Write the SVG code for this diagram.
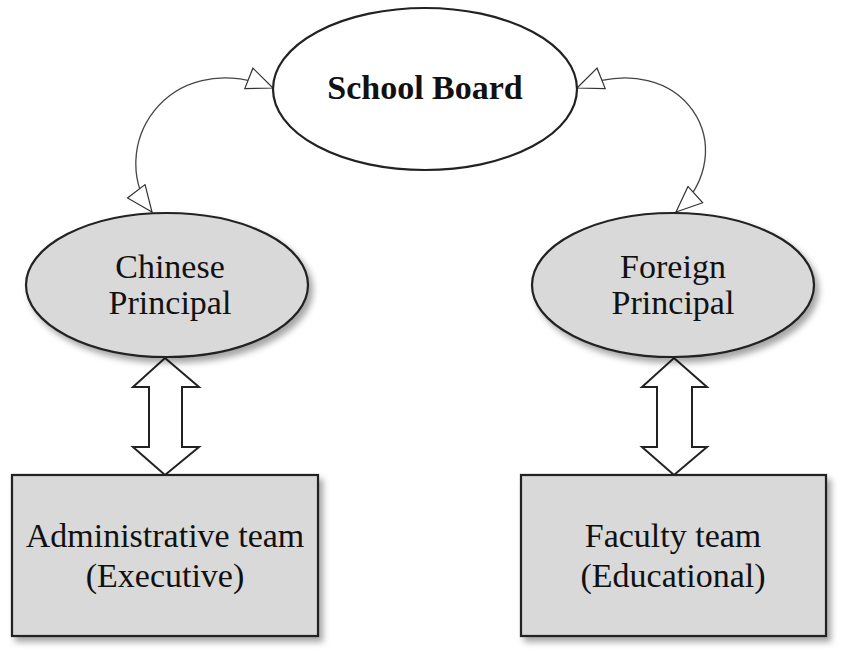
<svg xmlns="http://www.w3.org/2000/svg" width="851" height="661" viewBox="0 0 851 661">
<defs>
<filter id="sh" x="-10%" y="-10%" width="130%" height="130%"><feDropShadow dx="4" dy="5" stdDeviation="3" flood-color="#000" flood-opacity="0.35"/></filter>
<marker id="ah" viewBox="0 0 28 24" refX="27" refY="12" markerWidth="28" markerHeight="24" markerUnits="userSpaceOnUse" orient="auto-start-reverse"><path d="M1,1 L27,12 L1,23 Z" fill="#fff" stroke="#333" stroke-width="1.2"/></marker>
</defs>
<style>
text{font-family:"Liberation Serif","Times New Roman",serif;font-size:34px;fill:#111;text-anchor:middle}
.g{fill:#d9d9d9;stroke:#222;stroke-width:2.2}
.da{fill:#fff;stroke:#222;stroke-width:2}
.c{fill:none;stroke:#444;stroke-width:1.3}
</style>
<rect width="851" height="661" fill="#fff"/>
<g id="connectors">
<path class="c" d="M 273 88 C 165 45, 105 150, 152 212" marker-start="url(#ah)" marker-end="url(#ah)"/>
<path class="c" d="M 577 88 C 685 45, 745 150, 676 212" marker-start="url(#ah)" marker-end="url(#ah)"/>
<path class="da" d="M165,358 L199,387 L182,387 L182,447 L199,447 L165,475 L133,447 L149,447 L149,387 L133,387 Z"/>
<path class="da" d="M674,358 L707,387 L692,387 L692,447 L707,447 L674,475 L642,447 L657,447 L657,387 L642,387 Z"/>
</g>
<g id="school-board">
<ellipse cx="425" cy="89" rx="152" ry="81" fill="#fff" stroke="#222" stroke-width="2.2"/>
<text x="425" y="99" font-weight="bold" font-size="34">School Board</text>
</g>
<g id="chinese-principal">
<ellipse class="g" cx="167" cy="285" rx="141" ry="72" filter="url(#sh)"/>
<text x="170" y="278">Chinese</text>
<text x="170" y="314">Principal</text>
</g>
<g id="foreign-principal">
<ellipse class="g" cx="673" cy="285" rx="141" ry="72" filter="url(#sh)"/>
<text x="673" y="278">Foreign</text>
<text x="673" y="314">Principal</text>
</g>
<g id="admin-team">
<rect class="g" x="12" y="475" width="306" height="161" filter="url(#sh)"/>
<text x="165" y="547">Administrative team</text>
<text x="165" y="587">(Executive)</text>
</g>
<g id="faculty-team">
<rect class="g" x="521" y="475" width="305" height="161" filter="url(#sh)"/>
<text x="673" y="547">Faculty team</text>
<text x="673" y="587">(Educational)</text>
</g>
</svg>
